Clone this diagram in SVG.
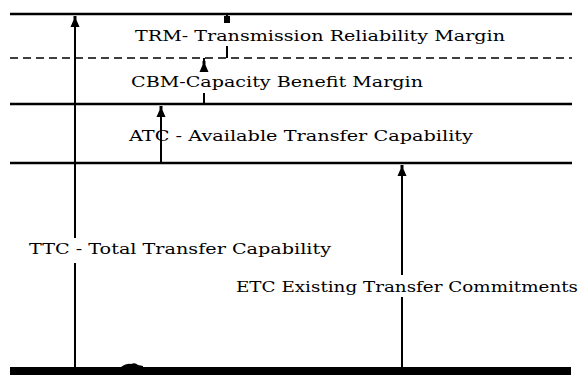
<svg xmlns="http://www.w3.org/2000/svg" width="580" height="375" viewBox="0 0 580 375">
<style>
.h{stroke:#000;stroke-width:2.4;fill:none}
.d{stroke:#000;stroke-width:1.3;stroke-dasharray:8 5;fill:none}
.v{stroke:#000;stroke-width:2;fill:none}
.t{font-family:"DejaVu Serif","Liberation Serif",serif;font-size:15px;fill:#000}
</style>
<defs>
<path id="ah" d="M-1.5,0 L1.5,0 L1.5,4 L4.5,11 L-4.5,11 L-1.5,4 Z" fill="#000"/>
</defs>
<rect width="580" height="375" fill="#fff"/>
<g id="levels">
<line class="h" x1="10" y1="14" x2="572" y2="14"/>
<line class="d" x1="10" y1="58" x2="572" y2="58"/>
<line class="h" x1="10" y1="104" x2="572" y2="104"/>
<line class="h" x1="10" y1="163" x2="572" y2="163"/>
<rect x="10" y="367" width="561" height="8" fill="#000"/>
<path d="M121,367 Q127,363 131,364 Q135,362 138,365 L143,366 L143,367 Z" fill="#000"/>
</g>
<g id="connectors">
<line class="v" x1="75" y1="20" x2="75" y2="238"/>
<line class="v" x1="75" y1="263" x2="75" y2="367"/>
<use href="#ah" x="75" y="16"/>
<line class="v" x1="227" y1="14" x2="227" y2="22"/>
<rect x="224" y="16" width="6" height="7" fill="#000"/>
<line class="v" x1="227" y1="46" x2="227" y2="58"/>
<line class="v" x1="204" y1="58" x2="204" y2="70"/>
<use href="#ah" x="204" y="61"/>
<line class="v" x1="204" y1="93" x2="204" y2="104"/>
<line class="v" x1="161" y1="110" x2="161" y2="163"/>
<use href="#ah" x="161" y="106"/>
<line class="v" x1="402" y1="170" x2="402" y2="275"/>
<line class="v" x1="402" y1="297" x2="402" y2="367"/>
<use href="#ah" x="402" y="165"/>
</g>
<g id="trm"><text class="t" x="135" y="41" textLength="370" lengthAdjust="spacingAndGlyphs">TRM- Transmission  Reliability Margin</text></g>
<g id="cbm"><text class="t" x="131" y="87" textLength="292" lengthAdjust="spacingAndGlyphs">CBM-Capacity Benefit Margin</text></g>
<g id="atc"><text class="t" x="129" y="141" textLength="344" lengthAdjust="spacingAndGlyphs">ATC - Available Transfer Capability</text></g>
<g id="ttc"><text class="t" x="29" y="254" textLength="302" lengthAdjust="spacingAndGlyphs">TTC - Total Transfer Capability</text></g>
<g id="etc"><text class="t" x="236" y="292" textLength="342" lengthAdjust="spacingAndGlyphs">ETC Existing Transfer Commitments</text></g>
</svg>
